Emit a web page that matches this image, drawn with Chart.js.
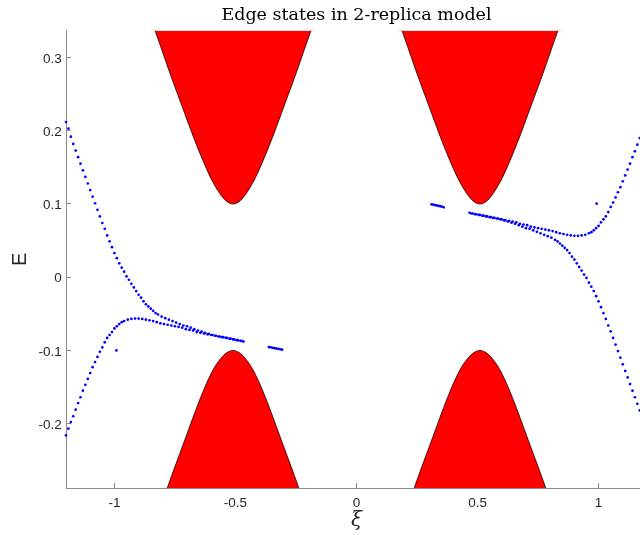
<!DOCTYPE html>
<html>
<head>
<meta charset="utf-8">
<script src="https://cdn.jsdelivr.net/npm/chart.js@4.4.1/dist/chart.umd.min.js"></script>
<style>
  html, body { margin: 0; padding: 0; background: #fff; overflow: hidden; }
</style>
</head>
<body>
<canvas id="myChart" width="651" height="535"></canvas>
<script>
// Axis ticks
const xTicks = [-1, -0.5, 0, 0.5, 1];
const yTicks = [-0.2, -0.1, 0, 0.1, 0.2, 0.3];

// Edge state branches, left half (xi, E)
const xiLeftUpper = [-1.20, -1.19, -1.18, -1.17, -1.16, -1.15, -1.14, -1.13, -1.12, -1.11,
    -1.10, -1.09, -1.08, -1.07, -1.06, -1.05, -1.04, -1.03, -1.02, -1.01,
    -1.00, -0.99, -0.98, -0.97, -0.96, -0.95, -0.94, -0.93, -0.92, -0.91,
    -0.90, -0.89, -0.88, -0.87, -0.86, -0.85, -0.84, -0.83, -0.82,
    -0.805, -0.79, -0.775, -0.76, -0.745, -0.73, -0.715, -0.70, -0.685, -0.67,
    -0.655, -0.64, -0.625, -0.61, -0.595, -0.58, -0.565, -0.55, -0.535, -0.52,
    -0.505, -0.49, -0.475];
const eLeftUpper = [0.212, 0.203, 0.192, 0.182, 0.173, 0.164, 0.155, 0.146, 0.137, 0.128,
    0.119, 0.110, 0.101, 0.092, 0.083, 0.074, 0.066, 0.057, 0.049, 0.041,
    0.033, 0.026, 0.019, 0.013, 0.0075, 0.001, -0.0035, -0.009, -0.014, -0.019,
    -0.024, -0.028, -0.033, -0.037, -0.040, -0.043, -0.046, -0.049, -0.051,
    -0.054, -0.056, -0.058, -0.060, -0.062, -0.064, -0.066, -0.067, -0.069, -0.071,
    -0.073, -0.0745, -0.076, -0.0775, -0.079, -0.080, -0.081, -0.082, -0.083, -0.084,
    -0.085, -0.086, -0.087];

const xiLeftLower = [-1.20, -1.19, -1.18, -1.17, -1.16, -1.15, -1.14, -1.13, -1.12, -1.11,
    -1.10, -1.09, -1.08, -1.07, -1.06, -1.05, -1.04, -1.03, -1.02, -1.01,
    -1.00, -0.99, -0.98, -0.97, -0.96,
    -0.945, -0.93, -0.915, -0.90, -0.885, -0.87, -0.855, -0.84, -0.825, -0.81,
    -0.795, -0.78, -0.765, -0.75, -0.735, -0.72, -0.705, -0.69, -0.675, -0.66,
    -0.645, -0.63, -0.615, -0.60, -0.585, -0.57, -0.555, -0.54, -0.525, -0.51,
    -0.495, -0.48, -0.467];
const eLeftLower = [-0.216, -0.207, -0.198, -0.190, -0.181, -0.172, -0.164, -0.155, -0.147, -0.139,
    -0.131, -0.123, -0.116, -0.109, -0.102, -0.096, -0.089, -0.083, -0.079, -0.075,
    -0.070, -0.067, -0.064, -0.0615, -0.060,
    -0.058, -0.057, -0.0565, -0.0565, -0.057, -0.058, -0.059, -0.060, -0.0615, -0.063,
    -0.064, -0.065, -0.066, -0.067, -0.068, -0.069, -0.071, -0.072, -0.073, -0.075,
    -0.076, -0.077, -0.078, -0.079, -0.080, -0.081, -0.082, -0.083, -0.084, -0.085,
    -0.086, -0.087, -0.088];

// Edge state branches, right half
const xiRightUpper = [0.467, 0.48, 0.495, 0.51, 0.525, 0.54, 0.555, 0.57, 0.585, 0.60,
    0.615, 0.63, 0.645, 0.66, 0.675, 0.69, 0.705, 0.72, 0.735, 0.75,
    0.765, 0.78, 0.795, 0.81, 0.825, 0.84, 0.855, 0.87, 0.885, 0.90,
    0.915, 0.93, 0.945, 0.96, 0.97, 0.98, 0.99, 1.00, 1.01, 1.02,
    1.03, 1.04, 1.05, 1.06, 1.07, 1.08, 1.09, 1.10, 1.11, 1.12,
    1.13, 1.14, 1.15, 1.16, 1.17];
const eRightUpper = [0.088, 0.087, 0.086, 0.085, 0.084, 0.083, 0.082, 0.081, 0.080, 0.079,
    0.078, 0.077, 0.076, 0.075, 0.073, 0.072, 0.071, 0.069, 0.068, 0.067,
    0.066, 0.065, 0.064, 0.063, 0.0615, 0.060, 0.059, 0.058, 0.057, 0.0565,
    0.0565, 0.057, 0.058, 0.060, 0.0615, 0.064, 0.067, 0.070, 0.075, 0.079,
    0.083, 0.089, 0.096, 0.102, 0.109, 0.116, 0.123, 0.131, 0.139, 0.147,
    0.155, 0.164, 0.172, 0.181, 0.190];

const xiRightLower = [0.475, 0.49, 0.505, 0.52, 0.535, 0.55, 0.565, 0.58, 0.595, 0.61,
    0.625, 0.64, 0.655, 0.67, 0.685, 0.70, 0.715, 0.73, 0.745, 0.76,
    0.775, 0.79, 0.805, 0.82, 0.83, 0.84, 0.85, 0.86, 0.87, 0.88,
    0.89, 0.90, 0.91, 0.92, 0.93, 0.94, 0.95, 0.96, 0.97, 0.98,
    0.99, 1.00, 1.01, 1.02, 1.03, 1.04, 1.05, 1.06, 1.07, 1.08,
    1.09, 1.10, 1.11, 1.12, 1.13, 1.14, 1.15, 1.16, 1.17];
const eRightLower = [0.087, 0.086, 0.085, 0.084, 0.083, 0.082, 0.081, 0.080, 0.079, 0.0775,
    0.076, 0.0745, 0.073, 0.071, 0.069, 0.067, 0.066, 0.064, 0.062, 0.060,
    0.058, 0.056, 0.054, 0.051, 0.049, 0.046, 0.043, 0.040, 0.037, 0.033,
    0.028, 0.024, 0.019, 0.014, 0.009, 0.0035, -0.001, -0.0075, -0.013, -0.019,
    -0.026, -0.033, -0.041, -0.049, -0.057, -0.066, -0.074, -0.083, -0.092, -0.101,
    -0.110, -0.119, -0.128, -0.137, -0.146, -0.155, -0.164, -0.173, -0.182];

// Short pieces and stray points
const xiSegLeft = [-0.362, -0.354, -0.346, -0.338, -0.330, -0.322, -0.314, -0.307];
const eSegLeft = [-0.0955, -0.096, -0.0965, -0.097, -0.0975, -0.098, -0.0985, -0.099];
const xiSegRight = [0.310, 0.317, 0.324, 0.331, 0.338, 0.345, 0.352, 0.360];
const eSegRight = [0.0995, 0.099, 0.0985, 0.098, 0.0975, 0.097, 0.0965, 0.0955];
const xiStray = [-0.992, 0.992];
const eStray = [-0.100, 0.1004];

// Bulk bands: edge read as offset from band centre
const bandCentres = [-0.51, 0.51];
const bandOffsets = [-0.34, -0.30, -0.26, -0.22, -0.18, -0.15, -0.12, -0.10, -0.08, -0.06, -0.04, -0.02,
    0, 0.02, 0.04, 0.06, 0.08, 0.10, 0.12, 0.15, 0.18, 0.22, 0.26, 0.30, 0.34];
const bandUpperE = [0.354, 0.316, 0.278, 0.242, 0.206, 0.180, 0.156, 0.141, 0.128, 0.117, 0.108, 0.102,
    0.100, 0.102, 0.108, 0.117, 0.128, 0.141, 0.156, 0.180, 0.206, 0.242, 0.278, 0.316, 0.354];
const bandLowerE = [-0.352, -0.315, -0.277, -0.241, -0.205, -0.178, -0.153, -0.138, -0.125, -0.115, -0.107, -0.102,
    -0.100, -0.102, -0.107, -0.115, -0.125, -0.138, -0.153, -0.178, -0.205, -0.241, -0.277, -0.315, -0.352];

function toPoints(xs, ys) {
    return xs.map((x, i) => ({ x: x, y: ys[i] }));
}

function dotSet(xs, ys) {
    return {
        type: 'scatter',
        data: toPoints(xs, ys),
        pointRadius: 1.35,
        pointBackgroundColor: '#0000ff',
        pointBorderWidth: 0,
        showLine: false,
        clip: false
    };
}

function bandSet(centre, es, fillTo) {
    return {
        type: 'line',
        data: bandOffsets.map((o, i) => ({ x: centre + o, y: es[i] })),
        fill: fillTo,
        backgroundColor: '#ff0000',
        borderColor: '#200000',
        borderWidth: 0.8,
        pointRadius: 0,
        cubicInterpolationMode: 'monotone'
    };
}

const datasets = [
    dotSet(xiLeftUpper, eLeftUpper),
    dotSet(xiLeftLower, eLeftLower),
    dotSet(xiRightUpper, eRightUpper),
    dotSet(xiRightLower, eRightLower),
    dotSet(xiSegLeft, eSegLeft),
    dotSet(xiSegRight, eSegRight),
    dotSet(xiStray, eStray)
];
bandCentres.forEach(c => {
    datasets.push(bandSet(c, bandUpperE, 'end'));
    datasets.push(bandSet(c, bandLowerE, 'start'));
});

const tickFont = { family: 'Liberation Sans', size: 13.5 };
const axisGray = '#8a8a8a';

new Chart(document.getElementById('myChart'), {
    type: 'scatter',
    data: { datasets: datasets },
    options: {
        responsive: false,
        animation: false,
        events: [],
        layout: { padding: 0 },
        scales: {
            x: {
                type: 'linear',
                min: -1.2,
                max: 1.2,
                z: 1,
                afterBuildTicks: axis => { axis.ticks = xTicks.map(v => ({ value: v })); },
                afterFit: axis => { axis.height = 47; },
                grid: { drawOnChartArea: false, drawTicks: true, tickLength: -5, color: axisGray },
                border: { display: true, color: axisGray, width: 1 },
                ticks: { font: tickFont, color: '#262626', padding: 12.5, maxRotation: 0, callback: v => String(v) },
                title: {
                    display: true, text: 'ξ', color: '#262626',
                    font: { family: 'DejaVu Serif', size: 20, style: 'italic' },
                    padding: { top: 0, bottom: 2 }
                }
            },
            y: {
                type: 'linear',
                min: -0.288,
                max: 0.337,
                afterBuildTicks: axis => { axis.ticks = yTicks.map(v => ({ value: v })); },
                afterFit: axis => { axis.width = 66; },
                grid: { drawOnChartArea: false, drawTicks: true, tickLength: -5, color: axisGray },
                border: { display: true, color: axisGray, width: 1 },
                ticks: { font: tickFont, color: '#262626', padding: 9.3, labelOffset: 1.5, callback: v => String(v) },
                title: {
                    display: true, text: 'E', color: '#262626',
                    font: { family: 'Liberation Sans', size: 20 },
                    padding: { top: 8.5, bottom: 0 }
                }
            }
        },
        plugins: {
            legend: { display: false },
            tooltip: { enabled: false },
            title: {
                display: true,
                fullSize: false,
                text: 'Edge states in 2-replica model',
                color: '#000',
                font: { family: 'DejaVu Serif', size: 17.5, weight: 'normal' },
                padding: { top: 5, bottom: 4.5 }
            }
        }
    }
});
</script>
</body>
</html>
